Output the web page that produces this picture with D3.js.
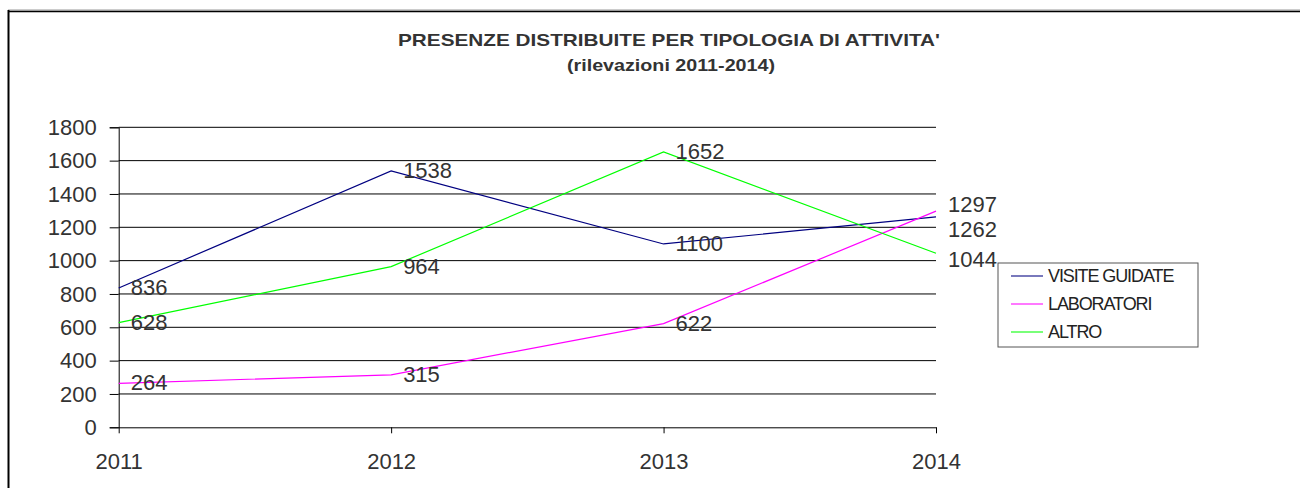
<!DOCTYPE html>
<html>
<head>
<meta charset="utf-8">
<script src="https://cdn.jsdelivr.net/npm/d3@7"></script>
<style>
  body { margin: 0; background: #fff; }
  text { font-family: "Liberation Sans", Arial, sans-serif; }
</style>
</head>
<body>
<div id="main"></div>
<script>
var years = ["2011", "2012", "2013", "2014"];
var seriesNames = ["VISITE GUIDATE", "LABORATORI", "ALTRO"];
var visiteGuidate = [836, 1538, 1100, 1262];
var laboratori = [264, 315, 622, 1297];
var altro = [628, 964, 1652, 1044];
var yTicks = [0, 200, 400, 600, 800, 1000, 1200, 1400, 1600, 1800];
var titleLines = ["PRESENZE DISTRIBUITE PER TIPOLOGIA DI ATTIVITA'", "(rilevazioni 2011-2014)"];

var ctx = {
    w: 1300,
    h: 488,
    left: 118.7,
    right: 936,
    top: 127.3,
    bottom: 427.3,
    fontSize: 22,
    colors: ["#000080", "#ff00ff", "#00ff00"],
    // extra vertical shift of the labels on the last year (they overlap there)
    lastShift: [13, -6, 7]
};

var svg = d3.select("#main").append("svg")
    .attr("width", ctx.w)
    .attr("height", ctx.h);

// outer frame (top and left edge only are visible)
svg.append("line").attr("x1", 8).attr("x2", ctx.w).attr("y1", 10).attr("y2", 10)
   .attr("stroke", "#999").attr("stroke-width", 1);
svg.append("line").attr("x1", 8).attr("x2", ctx.w).attr("y1", 11.5).attr("y2", 11.5)
   .attr("stroke", "#000").attr("stroke-width", 1.5);
svg.append("line").attr("x1", 8.5).attr("x2", 8.5).attr("y1", 10).attr("y2", ctx.h)
   .attr("stroke", "#000").attr("stroke-width", 2);

// title (condensed bold in the original)
var title = svg.append("g").attr("fill", "#333").attr("font-weight", "bold")
    .attr("text-anchor", "middle").attr("font-size", 17);
title.append("text").attr("x", 669).attr("y", 46)
     .attr("textLength", 542).attr("lengthAdjust", "spacingAndGlyphs")
     .text(titleLines[0]);
title.append("text").attr("x", 671).attr("y", 71)
     .attr("textLength", 208).attr("lengthAdjust", "spacingAndGlyphs")
     .text(titleLines[1]);

var x = d3.scalePoint().domain(years).range([ctx.left, ctx.right]);
var y = d3.scaleLinear().domain([0, 1800]).range([ctx.bottom, ctx.top]);

// gridlines
svg.append("g").selectAll("line").data(yTicks.slice(1)).enter().append("line")
   .attr("x1", ctx.left).attr("x2", ctx.right)
   .attr("y1", function(d){ return y(d); }).attr("y2", function(d){ return y(d); })
   .attr("stroke", "#000").attr("stroke-width", 1);

// y axis
var yAxis = svg.append("g")
    .attr("transform", "translate(" + ctx.left + ",0)")
    .call(d3.axisLeft(y).tickValues(yTicks).tickFormat(d3.format("d"))
          .tickSize(9).tickPadding(13));
yAxis.select(".domain").attr("stroke", "#000");
yAxis.selectAll(".tick line").attr("stroke", "#000");
yAxis.selectAll("text").attr("font-size", ctx.fontSize).attr("fill", "#333")
     .attr("font-family", "Liberation Sans, Arial, sans-serif");

// x axis
var xAxis = svg.append("g")
    .attr("transform", "translate(0," + ctx.bottom + ")")
    .call(d3.axisBottom(x).tickSize(6).tickSizeOuter(0).tickPadding(20));
xAxis.select(".domain").attr("stroke", "#000");
xAxis.selectAll(".tick line").attr("stroke", "#000");
xAxis.selectAll("text").attr("font-size", ctx.fontSize).attr("fill", "#333")
     .attr("font-family", "Liberation Sans, Arial, sans-serif");

var allSeries = [visiteGuidate, laboratori, altro];

var line = d3.line()
    .x(function(d, i){ return x(years[i]); })
    .y(function(d){ return y(d); });

allSeries.forEach(function(values, s){
    svg.append("path")
       .attr("d", line(values))
       .attr("fill", "none")
       .attr("stroke", ctx.colors[s])
       .attr("stroke-width", 1.2);
});

// data labels
allSeries.forEach(function(values, s){
    svg.append("g").selectAll("text").data(values).enter().append("text")
       .attr("x", function(d, i){ return x(years[i]) + 12; })
       .attr("y", function(d, i){
           var shift = i === values.length - 1 ? ctx.lastShift[s] : 0;
           return y(d) + 7 + shift;
       })
       .attr("font-size", ctx.fontSize)
       .attr("fill", "#333")
       .text(function(d){ return d; });
});

// legend
var legend = svg.append("g").attr("transform", "translate(998,263)");
legend.append("rect").attr("width", 200).attr("height", 84)
      .attr("fill", "#fff").attr("stroke", "#555").attr("stroke-width", 1);
seriesNames.forEach(function(name, s){
    var row = legend.append("g").attr("transform", "translate(0," + (13 + s * 28) + ")");
    row.append("line").attr("x1", 13).attr("x2", 45).attr("y1", 0).attr("y2", 0)
       .attr("stroke", ctx.colors[s]).attr("stroke-width", 1.5).attr("stroke-opacity", 0.7);
    row.append("text").attr("x", 50).attr("y", 6).attr("font-size", 18)
       .attr("fill", "#222").attr("letter-spacing", -1.1).text(name);
});
</script>
</body>
</html>
